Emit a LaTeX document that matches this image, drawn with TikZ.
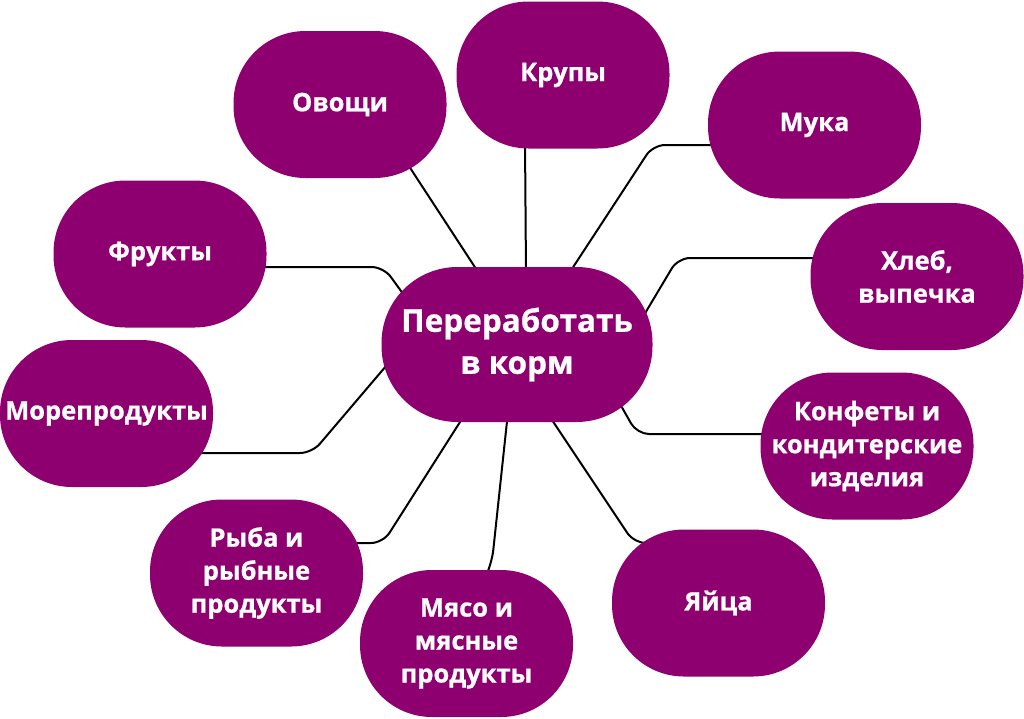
\documentclass[tikz,border=0pt]{standalone}
\usepackage{fontspec}
\setmainfont{Open Sans}[BoldFeatures={FakeBold=0.8}]
\usetikzlibrary{backgrounds,calc}

\definecolor{plum}{HTML}{8E0070}

\tikzset{
  topic/.style={fill=plum, text=white, align=center, inner sep=0pt,
    minimum width=213pt, minimum height=147pt, rounded corners=72pt,
    font=\bfseries\fontsize{25.5}{33}\selectfont},
  hubnode/.style={topic, minimum width=271pt, minimum height=155pt,
    rounded corners=76pt, font=\bfseries\fontsize{31.5}{42}\selectfont},
  link/.style={draw=black, line width=2pt, rounded corners=12pt}
}

\begin{document}
\begin{tikzpicture}[x=1pt, y=-1pt]
\useasboundingbox (0,0) rectangle (1024,718);

\node[hubnode] (hub) at (517, 344.5) {Переработать\\в корм};

\node[topic] (ovoshchi) at (340, 104.5) {Овощи};
\node[topic] (krupy) at (563, 75) {Крупы};
\node[topic] (muka) at (814.5, 125) {Мука};
\node[topic] (hleb) at (917, 276.5) {Хлеб,\\выпечка};
\node[topic] (konfety) at (867, 446) {Конфеты и\\кондитерские\\изделия};
\node[topic] (yaitsa) at (718.5, 603) {Яйца};
\node[topic] (myaso) at (466.5, 643.5) {Мясо и\\мясные\\продукты};
\node[topic] (ryba) at (256.5, 573) {Рыба и\\рыбные\\продукты};
\node[topic] (more) at (106.5, 413.5) {Морепродукты};
\node[topic] (frukty) at (160, 254) {Фрукты};

\begin{pgfonlayer}{background}
\draw[link] ($(ovoshchi)+(63,52.5)$) -- ($(hub)+(-35,-66.5)$);
\draw[link] ($(krupy)+(-38,65)$) -- ($(hub)+(9,-69.5)$);
\draw[link] ($(hub)+(49,-66.5)$) -- ($(muka)+(-161.5,20)$) -- ($(muka)+(-99.5,20)$);
\draw[link] ($(hub)+(124,-24.5)$) -- ($(hleb)+(-239,-18.5)$) -- ($(hleb)+(-100,-18.5)$);
\draw[link] ($(hub)+(98,50.5)$) -- ($(konfety)+(-230,-12)$) -- ($(konfety)+(-99,-12)$);
\draw[link] ($(hub)+(29,66.5)$) -- ($(yaitsa)+(-84.5,-60)$) -- ($(yaitsa)+(-58.5,-60)$);
\draw[link] ($(hub)+(-9,67.5)$) -- ($(myaso)+(25.5,-81.5)$) -- ($(myaso)+(17.5,-63.5)$);
\draw[link] ($(hub)+(-50,66.5)$) -- ($(ryba)+(126.5,-30)$) -- ($(ryba)+(93.5,-30)$);
\draw[link] ($(hub)+(-125,14.5)$) -- ($(more)+(205.5,39.5)$) -- ($(more)+(88.5,39.5)$);
\draw[link] ($(frukty)+(100,13)$) -- ($(frukty)+(223.6,13)$) -- ($(hub)+(-108,-42.5)$);
\end{pgfonlayer}

\end{tikzpicture}
\end{document}
